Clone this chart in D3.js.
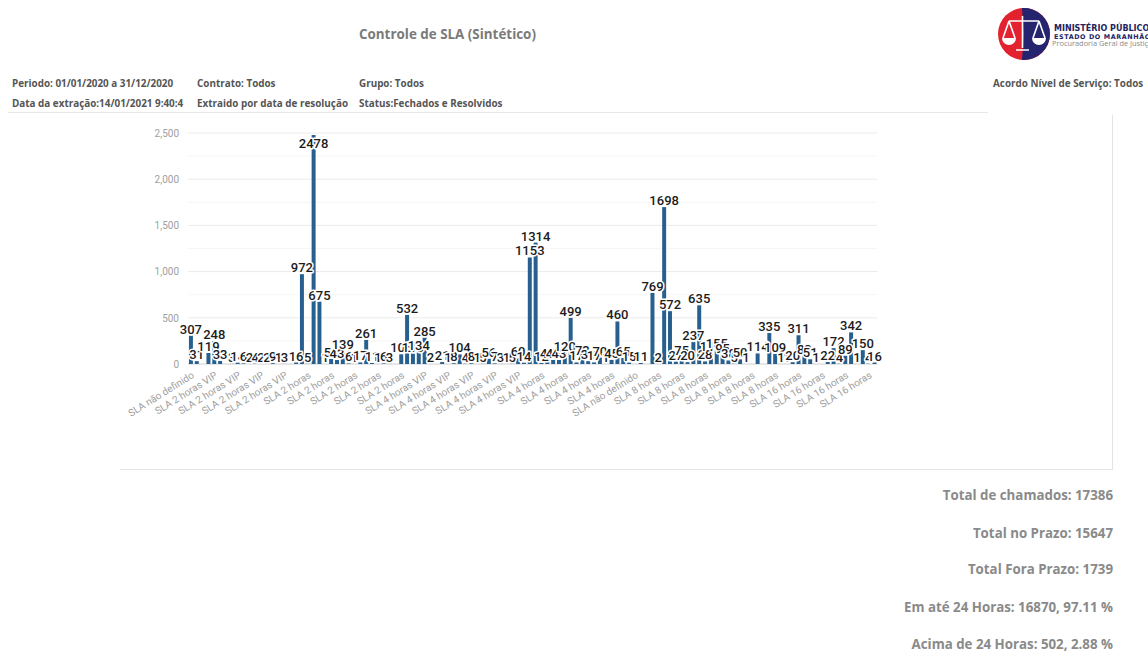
<!DOCTYPE html>
<meta charset="utf-8">
<style>
    html, body { margin: 0; background: #fff; }
    svg { display: block; }
    .head { font-family: "Open Sans"; font-weight: 700; font-size: 9.9px; fill: #555; }
    .total { font-family: "Open Sans"; font-weight: 700; font-size: 13.3px; fill: #8a8a8a; text-anchor: end; }
    .axis text { font-family: Roboto; font-size: 10px; fill: #a0a0a0; }
    .value { font-family: Roboto; font-weight: 500; font-size: 13px; fill: #1c1c1c; text-anchor: middle;
             stroke: #fff; stroke-width: 3px; paint-order: stroke; stroke-linejoin: round; }
</style>
<svg width="1148" height="652"></svg>
<script src="https://d3js.org/d3.v7.min.js"></script>
<script>
    var categories = [
        "SLA não definido", "SLA não definido", "SLA 2 horas VIP", "SLA 2 horas VIP", "SLA 2 horas VIP", "SLA 2 horas VIP",
        "SLA 2 horas VIP", "SLA 2 horas VIP", "SLA 2 horas VIP", "SLA 2 horas", "SLA 2 horas", "SLA 2 horas",
        "SLA 2 horas", "SLA 2 horas", "SLA 2 horas", "SLA 2 horas", "SLA 2 horas", "SLA 2 horas",
        "SLA 2 horas", "SLA 2 horas", "SLA 4 horas VIP", "SLA 4 horas VIP", "SLA 4 horas VIP", "SLA 4 horas VIP",
        "SLA 4 horas VIP", "SLA 4 horas VIP", "SLA 4 horas VIP", "SLA 4 horas VIP", "SLA 4 horas VIP", "SLA 4 horas VIP",
        "SLA 4 horas", "SLA 4 horas", "SLA 4 horas", "SLA 4 horas", "SLA 4 horas", "SLA 4 horas",
        "SLA 4 horas", "SLA 4 horas", "SLA não definido", "SLA não definido", "SLA 8 horas", "SLA 8 horas",
        "SLA 8 horas", "SLA 8 horas", "SLA 8 horas", "SLA 8 horas", "SLA 8 horas", "SLA 8 horas",
        "SLA 8 horas", "SLA 8 horas", "SLA 8 horas", "SLA 8 horas", "SLA 16 horas", "SLA 16 horas",
        "SLA 16 horas", "SLA 16 horas", "SLA 16 horas", "SLA 16 horas", "SLA 16 horas"
    ];
    // two series per category, null where the picture shows nothing
    var seriesA = [307, null, 248, null, 14, 2, 2, 9, 3, 16, 5, 675, 54, 139, 1, 261, 1, 3, 105, 113, 285, null, 1, 104, 8, 5, 7, 1, 60, 1153, 12, 44, 120, 17, 31, 70, 45, 65, null, null, 2, 572, 75, 237, 28, 155, 38, 50, null, null, 109, 1, 311, 51, null, 172, 89, 1, 4];
    var seriesB = [31, 119, 33, 3, 6, 4, 2, 1, null, 972, 2478, 1, 43, 6, 17, 11, 6, null, 532, 134, 2, 21, 8, 4, 1, 56, 3, 5, 14, 1314, 44, 43, 499, 73, 17, 1, 460, 15, 11, 769, 1698, 27, 20, 635, 115, 95, 5, 1, 114, 335, 1, 20, 83, 1, 22, 4, 342, 150, 16];
    var yTicks = [0, 500, 1000, 1500, 2000, 2500];
    var yMinor = [250, 750, 1250, 1750, 2250];
    var headLines = [
        ["Periodo: 01/01/2020 a 31/12/2020", 12, 87], ["Contrato: Todos", 197, 87], ["Grupo: Todos", 359, 87],
        ["Data da extração:14/01/2021 9:40:4", 12, 107], ["Extraido por data de resolução", 197, 107], ["Status:Fechados e Resolvidos", 359, 107],
        ["Acordo Nível de Serviço: Todos", 993, 87]
    ];
    var totals = [
        ["Total de chamados: 17386", 500], ["Total no Prazo: 15647", 538], ["Total Fora Prazo: 1739", 574],
        ["Em até 24 Horas: 16870, 97.11 %", 612], ["Acima de 24 Horas: 502, 2.88 %", 649]
    ];

    var svg = d3.select("svg"),
        margin = {top: 133, left: 188},
        width = 689.4,
        height = 231,
        g = svg.append("g").attr("transform", "translate(" + margin.left + "," + margin.top + ")");

    var x0 = d3.scaleBand().domain(d3.range(categories.length)).range([0, width]);
    var x1 = d3.scaleBand().domain([0, 1]).range([0, x0.bandwidth()]).paddingInner(0.32).paddingOuter(0.16);
    var y = d3.scaleLinear().domain([0, 2500]).range([height, 0]);

    // header
    svg.append("text").attr("x", 359).attr("y", 39).text("Controle de SLA (Sintético)")
        .attr("font-family", "Open Sans").attr("font-weight", 700).attr("font-size", 13.4).attr("fill", "#7a7a7a");
    svg.selectAll(".head").data(headLines).enter().append("text")
        .attr("class", "head").attr("x", d => d[1]).attr("y", d => d[2]).text(d => d[0]);
    svg.append("rect").attr("x", 8).attr("y", 112).attr("width", 980).attr("height", 1).attr("fill", "#e8e8e8");

    // logo
    var logo = svg.append("g").attr("transform", "translate(1024,34)");
    logo.append("circle").attr("r", 26).attr("fill", "#e2222f");
    logo.append("path").attr("d", d3.arc()({innerRadius: 0, outerRadius: 26, startAngle: -0.08, endAngle: Math.PI + 0.08})).attr("fill", "#25246f");
    logo.append("path").attr("d", "M-15 -13H15M-1.5 -18V14M-8 16H5M-15 -13L-21 4M-15 -13L-9 4M15 -13L9 4M15 -13L21 4")
        .attr("stroke", "#fff").attr("stroke-width", 1.6).attr("fill", "none");
    logo.append("path").attr("d", "M-22 4H-8A7 7 0 0 1 -22 4M8 4H22A7 7 0 0 1 8 4").attr("fill", "#fff");
    svg.append("text").attr("x", 1054).attr("y", 31).text("MINISTÉRIO PÚBLICO")
        .attr("font-family", "DejaVu Sans").attr("font-weight", 700).attr("font-size", 8).attr("fill", "#23235f");
    svg.append("text").attr("x", 1054).attr("y", 38.5).text("ESTADO DO MARANHÃO")
        .attr("font-family", "DejaVu Sans").attr("font-weight", 700).attr("font-size", 6.4)
        .attr("letter-spacing", 0.6).attr("fill", "#23235f");
    svg.append("text").attr("x", 1052).attr("y", 46).text("Procuradoria Geral de Justiça")
        .attr("font-family", "Open Sans").attr("font-size", 7.4).attr("fill", "#8a8a8a");

    // frame of the chart box
    svg.append("rect").attr("x", 1112).attr("y", 115).attr("width", 1).attr("height", 354).attr("fill", "#e4e4e4");
    svg.append("rect").attr("x", 120).attr("y", 469).attr("width", 993).attr("height", 1).attr("fill", "#e4e4e4");

    // grid
    g.selectAll(".minor").data(yMinor).enter().append("line")
        .attr("x2", width).attr("y1", d => y(d)).attr("y2", d => y(d)).attr("stroke", "#f6f6f6");
    g.selectAll(".major").data(yTicks).enter().append("line")
        .attr("x2", width).attr("y1", d => y(d)).attr("y2", d => y(d)).attr("stroke", d => d ? "#ebebeb" : "#d0d0d0");

    g.append("g").attr("class", "axis")
        .call(d3.axisLeft(y).tickValues(yTicks).tickFormat(d3.format(",")).tickSize(0).tickPadding(9))
        .call(a => a.select(".domain").remove());

    g.append("g").attr("class", "axis").attr("transform", "translate(0," + height + ")")
        .call(d3.axisBottom(x0).tickValues(d3.range(0, categories.length, 2)).tickFormat(i => categories[i]).tickSize(0))
        .call(a => a.select(".domain").remove())
        .selectAll("text")
        .attr("text-anchor", "end")
        .attr("dy", 0).attr("y", 0)
        .attr("transform", "translate(1,13) rotate(-32)");

    // bars and labels
    var bars = [];
    categories.forEach(function (c, i) {
        [seriesA[i], seriesB[i]].forEach(function (v, s) {
            if (v != null) bars.push({cat: i, s: s, v: v});
        });
    });

    g.selectAll(".bar").data(bars).enter().append("rect")
        .attr("class", "bar")
        .attr("x", d => x0(d.cat) + x1(d.s))
        .attr("width", x1.bandwidth())
        .attr("y", d => y(d.v))
        .attr("height", d => height - y(d.v))
        .attr("fill", "#27608f");

    g.selectAll(".value").data(bars).enter().append("text")
        .attr("class", "value")
        .attr("x", d => x0(d.cat) + x1(d.s) + x1.bandwidth() / 2)
        // labels that would leave the plot go inside the bar
        .attr("y", d => y(d.v) - 6 < 8 ? y(d.v) + 13 : y(d.v) - 2)
        .text(d => d.v);

    svg.selectAll(".total").data(totals).enter().append("text")
        .attr("class", "total").attr("x", 1113).attr("y", d => d[1]).text(d => d[0]);
</script>
